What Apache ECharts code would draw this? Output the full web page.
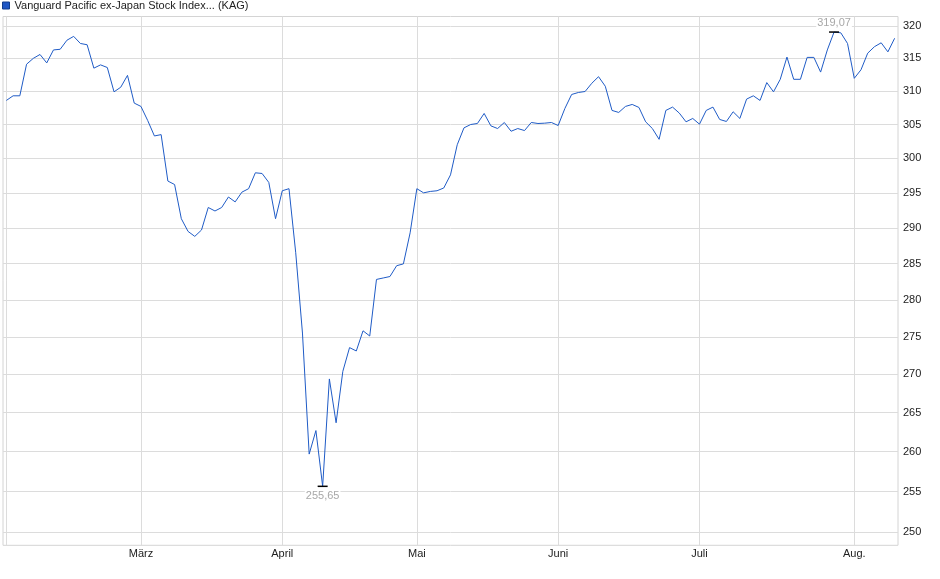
<!DOCTYPE html>
<html>
<head>
<meta charset="utf-8">
<title>Vanguard Pacific ex-Japan Stock Index (KAG)</title>
<script src="https://cdn.jsdelivr.net/npm/echarts@6/dist/echarts.min.js"></script>
<style>
html, body { margin: 0; padding: 0; background: #fff; }
#chart { width: 940px; height: 579px; }
</style>
</head>
<body>
<div id="chart"></div>
<script>
var seriesName = 'Vanguard Pacific ex-Japan Stock Index... (KAG)';

// Handelstage Feb. - Aug. 2025
var dates = [
	'2025-02-03','2025-02-04','2025-02-05','2025-02-06','2025-02-07','2025-02-10','2025-02-11','2025-02-12','2025-02-13','2025-02-14',
	'2025-02-17','2025-02-18','2025-02-19','2025-02-20','2025-02-21','2025-02-24','2025-02-25','2025-02-26','2025-02-27','2025-02-28',
	'2025-03-03','2025-03-04','2025-03-05','2025-03-06','2025-03-07','2025-03-10','2025-03-11','2025-03-12','2025-03-13','2025-03-14',
	'2025-03-17','2025-03-18','2025-03-19','2025-03-20','2025-03-21','2025-03-24','2025-03-25','2025-03-26','2025-03-27','2025-03-28','2025-03-31',
	'2025-04-01','2025-04-02','2025-04-03','2025-04-04','2025-04-07','2025-04-08','2025-04-09','2025-04-10','2025-04-11','2025-04-14',
	'2025-04-15','2025-04-16','2025-04-17','2025-04-22','2025-04-23','2025-04-24','2025-04-25','2025-04-28','2025-04-29','2025-04-30',
	'2025-05-02','2025-05-05','2025-05-06','2025-05-07','2025-05-08','2025-05-09','2025-05-12','2025-05-13','2025-05-14','2025-05-15',
	'2025-05-16','2025-05-19','2025-05-20','2025-05-21','2025-05-22','2025-05-23','2025-05-26','2025-05-27','2025-05-28','2025-05-29','2025-05-30',
	'2025-06-02','2025-06-03','2025-06-04','2025-06-05','2025-06-06','2025-06-09','2025-06-10','2025-06-11','2025-06-12','2025-06-13',
	'2025-06-16','2025-06-17','2025-06-18','2025-06-19','2025-06-20','2025-06-23','2025-06-24','2025-06-25','2025-06-26','2025-06-27','2025-06-30',
	'2025-07-01','2025-07-02','2025-07-03','2025-07-04','2025-07-07','2025-07-08','2025-07-09','2025-07-10','2025-07-11','2025-07-14',
	'2025-07-15','2025-07-16','2025-07-17','2025-07-18','2025-07-21','2025-07-22','2025-07-23','2025-07-24','2025-07-25','2025-07-28',
	'2025-07-29','2025-07-30','2025-07-31',
	'2025-08-01','2025-08-04','2025-08-05','2025-08-06','2025-08-07','2025-08-08','2025-08-11'
];

var prices = [
	308.6, 309.3, 309.3, 314.1, 315.0, 315.6, 314.3, 316.3, 316.4, 317.8,
	318.4, 317.3, 317.1, 313.5, 314.0, 313.6, 309.9, 310.6, 312.4, 308.2,
	307.7, 305.6, 303.3, 303.5, 296.7, 296.2, 291.3, 289.5, 288.8, 289.7,
	292.9, 292.4, 292.9, 294.4, 293.7, 295.1, 295.6, 297.9, 297.8, 296.5, 291.3,
	295.3, 295.6, 286.5, 275.5, 259.7, 262.7, 255.65, 269.4, 263.7, 270.4,
	273.55, 273.1, 275.8, 275.1, 282.8, 283.0, 283.2, 284.7, 284.95, 289.3,
	295.6, 295.0, 295.2, 295.3, 295.7, 297.6, 302.0, 304.5, 305.0, 305.15,
	306.65, 304.8, 304.4, 305.3, 304.0, 304.4, 304.1, 305.3, 305.15, 305.2, 305.3,
	304.85, 307.4, 309.5, 309.8, 309.95, 311.2, 312.2, 310.75, 307.1, 306.8,
	307.7, 308.0, 307.55, 305.4, 304.4, 302.8, 307.1, 307.6, 306.7, 305.4, 305.9,
	305.05, 307.1, 307.6, 305.75, 305.45, 306.9, 305.9, 308.8, 309.3, 308.6,
	311.3, 309.9, 311.8, 315.2, 311.8, 311.8, 315.15, 315.15, 312.9, 316.3,
	319.07, 318.95, 317.3,
	311.95, 313.25, 315.8, 316.8, 317.4, 316.0, 318.1
];

var monthDates = ['2025-03-03', '2025-04-01', '2025-05-02', '2025-06-02', '2025-07-01', '2025-08-01'];
var monthNames = ['März', 'April', 'Mai', 'Juni', 'Juli', 'Aug.'];
var yTicks = [250, 255, 260, 265, 270, 275, 280, 285, 290, 295, 300, 305, 310, 315, 320];

var chart = echarts.init(document.getElementById('chart'));

// Gitterlinien als markLine, damit sie der log-Skala folgen
var gridLines = [];
for (var i = 0; i < yTicks.length; i++) {
	gridLines.push({ yAxis: yTicks[i] });
}
var xGrid = [dates[0]].concat(monthDates);
for (var j = 0; j < xGrid.length; j++) {
	gridLines.push({ xAxis: xGrid[j], label: { show: false } });
}

function fmtDe(v) {
	return v.toFixed(2).replace('.', ',');
}

var option = {
	animation: false,
	textStyle: { fontFamily: 'Liberation Sans, Arial, sans-serif' },
	legend: {
		data: [seriesName],
		left: 2,
		top: 0,
		padding: 0,
		icon: 'rect',
		itemWidth: 7,
		itemHeight: 7,
		selectedMode: false,
		itemStyle: { color: '#1f56c4', borderColor: '#123d8c', borderWidth: 1 },
		textStyle: { fontSize: 11, color: '#222' }
	},
	grid: {
		left: 3,
		right: 42,
		top: 16.5,
		bottom: 33.7,
		show: true,
		borderColor: '#d4d4d4',
		borderWidth: 1,
		containLabel: false,
		outerBoundsMode: 'none'
	},
	xAxis: {
		type: 'category',
		data: dates,
		boundaryGap: true,
		axisLine: { show: false },
		axisTick: { show: false },
		splitLine: { show: false },
		axisLabel: {
			interval: function (idx, val) { return monthDates.indexOf(val) >= 0; },
			formatter: function (val) { return monthNames[monthDates.indexOf(val)]; },
			fontSize: 11,
			color: '#222',
			margin: 3
		}
	},
	yAxis: {
		type: 'log',
		position: 'right',
		min: 248.4,
		max: 321.5,
		axisLine: { show: false },
		axisTick: { show: false },
		axisLabel: { show: false },
		splitLine: { show: false }
	},
	series: [
		{
			name: seriesName,
			type: 'line',
			data: prices,
			showSymbol: false,
			symbol: 'none',
			z: 3,
			lineStyle: { color: '#1f5bc6', width: 1 },
			itemStyle: { color: '#1f56c4' },
			markLine: {
				z: 1,
				silent: true,
				symbol: ['none', 'none'],
				lineStyle: { color: '#dcdcdc', width: 1, type: 'solid' },
				emphasis: { disabled: true },
				label: {
					show: true,
					position: 'end',
					distance: 5,
					fontSize: 11,
					color: '#222',
					formatter: function (p) { return p.value; }
				},
				data: gridLines
			},
			markPoint: {
				z: 6,
				silent: true,
				symbol: 'rect',
				symbolSize: [10, 1.5],
				itemStyle: { color: '#000' },
				label: {
					show: true,
					fontSize: 11,
					color: '#a8a8a8',
					backgroundColor: '#fff',
					padding: [0, 1],
					distance: 3,
					formatter: function (p) { return fmtDe(p.value); }
				},
				data: [
					{ type: 'max', label: { position: 'top' } },
					{ type: 'min', label: { position: 'bottom' } }
				]
			}
		}
	]
};

chart.setOption(option);
</script>
</body>
</html>
